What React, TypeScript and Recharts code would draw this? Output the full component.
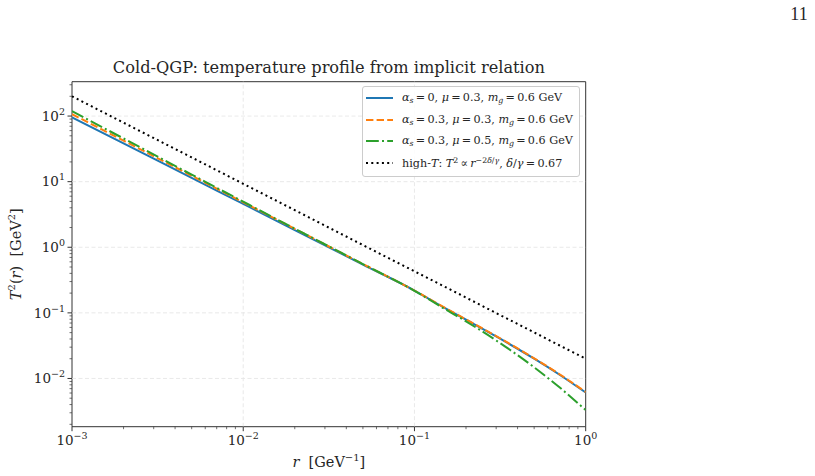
import React from "react";
import {
  LineChart,
  Line,
  XAxis,
  YAxis,
  ReferenceLine,
  ReferenceArea,
  Legend,
} from "recharts";

// r in GeV^-1 and T^2(r) in GeV^2 for each parameter set
const radius = [0.001, 0.002, 0.005, 0.01, 0.02, 0.05, 0.1, 0.15, 0.2, 0.3, 0.5, 0.7, 1.0];
const tempAlpha0 = [95.5, 38.3, 11.4, 4.57, 1.83, 0.545, 0.219, 0.119, 0.0787, 0.0437, 0.02, 0.0115, 0.0061];
const tempMu03 = [107, 42.2, 12.3, 4.84, 1.91, 0.555, 0.219, 0.12, 0.0795, 0.0442, 0.0203, 0.0117, 0.0062];
const tempMu05 = [119, 45.5, 12.8, 4.95, 1.92, 0.555, 0.217, 0.115, 0.0741, 0.038, 0.0148, 0.0074, 0.0033];
const tempHighT = [200, 79.3, 23.4, 9.28, 3.68, 1.08, 0.43, 0.251, 0.171, 0.0993, 0.0504, 0.0321, 0.02];

const xMajor = [0.001, 0.01, 0.1, 1];
const yMajor = [0.01, 0.1, 1, 10, 100];
const X_MIN = 0.001;
const X_MAX = 1;
const Y_MIN = 0.00184;
const Y_MAX = 334;

// minor log ticks (2..9 x 10^k) inside the axis range
function logTicks(lo: number, hi: number) {
  const out: number[] = [];
  for (let e = Math.floor(Math.log10(lo)); e <= Math.ceil(Math.log10(hi)); e++) {
    for (let m = 1; m <= 9; m++) {
      const v = Number((m * Math.pow(10, e)).toPrecision(3));
      if (v >= lo * 0.999 && v <= hi * 1.001) out.push(v);
    }
  }
  return out;
}

const xTicks = logTicks(X_MIN, X_MAX);
const yTicks = logTicks(Y_MIN, Y_MAX);

const data = radius.map((r, i) => ({
  r,
  a0: tempAlpha0[i],
  mu03: tempMu03[i],
  mu05: tempMu05[i],
  highT: tempHighT[i],
}));

const FONT = "DejaVu Serif";
const INK = "#262626";
const SPINE = "#333333";

const isMajor = (list: number[], v: number) =>
  list.some((m) => Math.abs(Math.log10(m) - Math.log10(v)) < 1e-6);

const expText = (v: number) => {
  const e = Math.round(Math.log10(v));
  return e < 0 ? `\u2212${-e}` : `${e}`;
};

function XTick(props: any) {
  const { x, y, payload } = props;
  const major = isMajor(xMajor, payload.value);
  return (
    <g>
      <line x1={x} x2={x} y1={y} y2={y + (major ? 4.5 : 2.5)} stroke={SPINE} strokeWidth={major ? 1 : 0.7} />
      {major && (
        <text x={x} y={y + 18.3} textAnchor="middle" fontFamily={FONT} fontSize={13.5} fill={INK}>
          10
          <tspan dy={-6} fontSize={9.5}>{expText(payload.value)}</tspan>
        </text>
      )}
    </g>
  );
}

function YTick(props: any) {
  const { x, y, payload } = props;
  const major = isMajor(yMajor, payload.value);
  return (
    <g>
      <line x1={x} x2={x - (major ? 4.5 : 2.5)} y1={y} y2={y} stroke={SPINE} strokeWidth={major ? 1 : 0.7} />
      {major && (
        <text x={x - 7} y={y + 4.8} textAnchor="end" fontFamily={FONT} fontSize={13.5} fill={INK}>
          10
          <tspan dy={-6} fontSize={9.5}>{expText(payload.value)}</tspan>
        </text>
      )}
    </g>
  );
}

function XLabel(props: any) {
  const { viewBox } = props;
  const cx = viewBox.x + viewBox.width / 2;
  return (
    <text x={cx} y={426.7 + 40.3} textAnchor="middle" fontFamily={FONT} fontSize={14.5} fill={INK}>
      <tspan fontStyle="italic">r</tspan>
      {"\u00a0\u00a0[GeV"}
      <tspan dy={-6} fontSize={10}>{"\u22121"}</tspan>
      <tspan dy={6}>]</tspan>
    </text>
  );
}

function YLabel(props: any) {
  const { viewBox } = props;
  const cx = 21;
  const cy = viewBox.y + viewBox.height / 2;
  return (
    <text
      x={cx}
      y={cy}
      transform={`rotate(-90 ${cx} ${cy})`}
      textAnchor="middle"
      fontFamily={FONT}
      fontSize={14.5}
      fill={INK}
    >
      <tspan fontStyle="italic">T</tspan>
      <tspan dy={-6} fontSize={10}>2</tspan>
      <tspan dy={6}>(</tspan>
      <tspan fontStyle="italic">r</tspan>
      {")\u00a0\u00a0[GeV"}
      <tspan dy={-6} fontSize={10}>2</tspan>
      <tspan dy={6}>]</tspan>
    </text>
  );
}

const series = [
  { key: "a0", color: "#1f77b4", dash: undefined as string | undefined },
  { key: "mu03", color: "#ff7f0e", dash: "7.4 3.2" },
  { key: "mu05", color: "#2ca02c", dash: "12.8 3.2 2 3.2" },
  { key: "highT", color: "#000000", dash: "2 3.3" },
];

const I = ({ children }: { children: React.ReactNode }) => <i>{children}</i>;
const Sub = ({ children }: { children: React.ReactNode }) => (
  <sub style={{ fontSize: "0.7em", verticalAlign: "-0.25em" }}>{children}</sub>
);
const Sup = ({ children }: { children: React.ReactNode }) => (
  <sup style={{ fontSize: "0.7em", verticalAlign: "0.45em" }}>{children}</sup>
);

// thin spaces around relations, like mathtext
const EQ = "\u2009=\u2009";

const legendLabels: React.ReactNode[] = [
  <>
    <I>α</I><Sub><I>s</I></Sub>{EQ}0, <I>μ</I>{EQ}0.3, <I>m</I><Sub><I>g</I></Sub>{EQ}0.6 GeV
  </>,
  <>
    <I>α</I><Sub><I>s</I></Sub>{EQ}0.3, <I>μ</I>{EQ}0.3, <I>m</I><Sub><I>g</I></Sub>{EQ}0.6 GeV
  </>,
  <>
    <I>α</I><Sub><I>s</I></Sub>{EQ}0.3, <I>μ</I>{EQ}0.5, <I>m</I><Sub><I>g</I></Sub>{EQ}0.6 GeV
  </>,
  <>
    high-<I>T</I>: <I>T</I><Sup>2</Sup>{"\u2009∝\u2009"}<I>r</I>
    <Sup>
      −2<I>δ</I>/<I>γ</I>
    </Sup>
    , <I>δ</I>/<I>γ</I>{EQ}0.67
  </>,
];

function LegendBox() {
  return (
    <div
      style={{
        width: 218,
        height: 91,
        boxSizing: "border-box",
        border: "1px solid #cccccc",
        borderRadius: 3,
        background: "rgba(255,255,255,0.85)",
        fontFamily: FONT,
        fontSize: 11.2,
        color: INK,
      }}
    >
      {series.map((s, i) => (
        <div key={s.key} style={{ display: "flex", alignItems: "center", height: 21.7, whiteSpace: "nowrap" }}>
          <svg width={27} height={6} style={{ marginLeft: 3, marginRight: 9, flex: "none" }}>
            <line x1={0} x2={27} y1={3} y2={3} stroke={s.color} strokeWidth={2} strokeDasharray={s.dash} />
          </svg>
          <span>{legendLabels[i]}</span>
        </div>
      ))}
    </div>
  );
}

export default function App() {
  return (
    <div style={{ position: "absolute", left: 0, top: 0, width: 815, height: 476, background: "#fff" }}>
      <svg width={815} height={476} style={{ position: "absolute", left: 0, top: 0 }}>
        <text x={799} y={20} textAnchor="middle" fontFamily="Liberation Serif" fontSize={18} fill={INK}>
          11
        </text>
        <text x={328.9} y={73.3} textAnchor="middle" fontFamily={FONT} fontSize={16.2} fill={INK}>
          Cold-QGP: temperature profile from implicit relation
        </text>
      </svg>
      <div style={{ position: "absolute", left: 0, top: 0 }}>
        <LineChart
          width={815}
          height={476}
          data={data}
          margin={{ top: 81.7, right: 229.3, bottom: 48.3, left: 71 }}
        >
          <XAxis
            dataKey="r"
            type="number"
            scale="log"
            domain={[X_MIN, X_MAX]}
            ticks={xTicks}
            interval={0}
            tick={<XTick />}
            tickLine={false}
            axisLine={false}
            tickSize={0}
            tickMargin={0}
            height={1}
            allowDataOverflow
            label={<XLabel />}
          />
          <YAxis
            type="number"
            scale="log"
            domain={[Y_MIN, Y_MAX]}
            ticks={yTicks}
            interval={0}
            tick={<YTick />}
            tickLine={false}
            axisLine={false}
            tickSize={0}
            tickMargin={0}
            width={1}
            allowDataOverflow
            label={<YLabel />}
          />
          {xMajor.slice(1, -1).map((v) => (
            <ReferenceLine key={`gx${v}`} x={v} stroke="#e3e3e3" strokeWidth={0.8} strokeDasharray="4 2.5" />
          ))}
          {yMajor.map((v) => (
            <ReferenceLine key={`gy${v}`} y={v} stroke="#e3e3e3" strokeWidth={0.8} strokeDasharray="4 2.5" />
          ))}
          {series.map((s) => (
            <Line
              key={s.key}
              dataKey={s.key}
              type={s.key === "highT" ? "linear" : "monotone"}
              stroke={s.color}
              strokeWidth={2}
              strokeDasharray={s.dash}
              dot={false}
              activeDot={false}
              isAnimationActive={false}
            />
          ))}
          <ReferenceArea
            x1={X_MIN}
            x2={X_MAX}
            y1={Y_MIN}
            y2={Y_MAX}
            fill="none"
            fillOpacity={0}
            stroke={SPINE}
            strokeWidth={1}
            ifOverflow="visible"
          />
          <Legend
            layout="vertical"
            align="center"
            verticalAlign="middle"
            content={<LegendBox />}
            wrapperStyle={{ left: 362, top: 86, width: 218, height: 91, right: "auto", bottom: "auto" }}
          />
        </LineChart>
      </div>
    </div>
  );
}
